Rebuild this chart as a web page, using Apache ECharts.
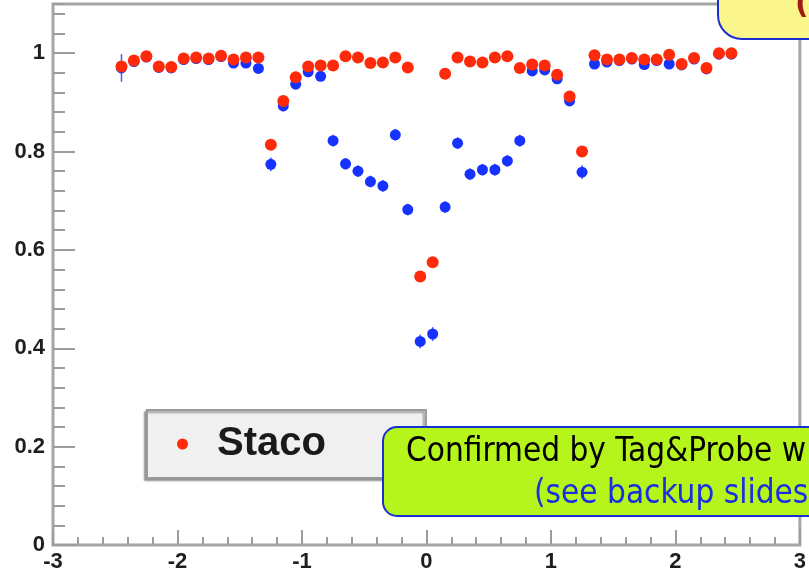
<!DOCTYPE html>
<html>
<head>
<meta charset="utf-8">
<script src="https://cdn.jsdelivr.net/npm/echarts@6/dist/echarts.min.js"></script>
<style>
  html, body { margin: 0; padding: 0; background: #ffffff; }
  #chart { width: 809px; height: 581px; }
</style>
</head>
<body>
<div id="chart"></div>
<script>
// Muon reconstruction efficiency versus eta, bins of width 0.1
const etaBins = [
  -2.45, -2.35, -2.25, -2.15, -2.05, -1.95, -1.85, -1.75, -1.65, -1.55,
  -1.45, -1.35, -1.25, -1.15, -1.05, -0.95, -0.85, -0.75, -0.65, -0.55,
  -0.45, -0.35, -0.25, -0.15, -0.05, 0.05, 0.15, 0.25, 0.35, 0.45,
  0.55, 0.65, 0.75, 0.85, 0.95, 1.05, 1.15, 1.25, 1.35, 1.45,
  1.55, 1.65, 1.75, 1.85, 1.95, 2.05, 2.15, 2.25, 2.35, 2.45
];

const stacoEff = [
  0.973, 0.985, 0.994, 0.973, 0.972, 0.989, 0.991, 0.989, 0.995, 0.987,
  0.991, 0.991, 0.814, 0.903, 0.951, 0.973, 0.975, 0.975, 0.994, 0.991,
  0.980, 0.981, 0.991, 0.971, 0.546, 0.575, 0.958, 0.991, 0.983, 0.981,
  0.991, 0.994, 0.970, 0.977, 0.975, 0.956, 0.912, 0.800, 0.996, 0.987,
  0.987, 0.990, 0.987, 0.987, 0.997, 0.978, 0.990, 0.970, 1.000, 1.000
];

const muidEff = [
  0.970, 0.983, 0.992, 0.971, 0.970, 0.987, 0.989, 0.987, 0.993, 0.980,
  0.980, 0.969, 0.774, 0.893, 0.937, 0.962, 0.953, 0.822, 0.775, 0.760,
  0.739, 0.730, 0.834, 0.682, 0.414, 0.429, 0.687, 0.817, 0.754, 0.763,
  0.763, 0.781, 0.822, 0.964, 0.966, 0.948, 0.903, 0.758, 0.978, 0.982,
  0.985, 0.988, 0.977, 0.985, 0.978, 0.976, 0.988, 0.968, 0.998, 0.998
];

const muidErr = [
  0.028, 0.008, 0.008, 0.008, 0.008, 0.008, 0.008, 0.008, 0.008, 0.008,
  0.008, 0.008, 0.014, 0.012, 0.010, 0.008, 0.008, 0.012, 0.012, 0.012,
  0.012, 0.012, 0.012, 0.012, 0.014, 0.014, 0.012, 0.012, 0.012, 0.012,
  0.012, 0.012, 0.012, 0.008, 0.008, 0.008, 0.010, 0.014, 0.008, 0.008,
  0.008, 0.008, 0.008, 0.008, 0.008, 0.008, 0.008, 0.008, 0.008, 0.008
];

const legendLabel = 'Staco';
const boxLine1 = 'Confirmed by Tag&Probe w';
const boxLine2 = '(see backup slides)';

const RED = '#ff2a0a';
const BLUE = '#1632ff';
const FRAME = '#a6a6a6';
const TICK = '#9c9c9c';
const labelFont = { fontFamily: 'Liberation Sans', fontWeight: 'bold', fontSize: 22, color: '#1e1e1e' };

const chart = echarts.init(document.getElementById('chart'), null, { renderer: 'canvas' });

const stacoData = etaBins.map((x, i) => [x, stacoEff[i]]);
const muidData = etaBins.map((x, i) => [x, muidEff[i]]);
const muidErrData = etaBins.map((x, i) => [x, muidEff[i] - muidErr[i], muidEff[i] + muidErr[i]]);

chart.setOption({
  animation: false,
  backgroundColor: '#ffffff',
  grid: {
    left: 53, right: 5, top: 4, bottom: 36,
    show: true, borderColor: FRAME, borderWidth: 3, backgroundColor: 'transparent'
  },
  legend: {
    data: [{ name: legendLabel, icon: 'circle' }],
    left: 147, top: 410,
    orient: 'horizontal',
    itemWidth: 11, itemHeight: 11,
    padding: [14, 100, 14, 30],
    backgroundColor: '#f0f0f0',
    borderColor: '#9a9a9a', borderWidth: 2,
    shadowColor: 'rgba(0,0,0,0.35)', shadowBlur: 2, shadowOffsetX: -2, shadowOffsetY: 2,
    textStyle: {
      fontFamily: 'Liberation Sans', fontWeight: 'bold', fontSize: 40, color: '#1a1a1a',
      lineHeight: 40, padding: [0, 0, 0, 24]
    }
  },
  xAxis: {
    type: 'value', min: -3, max: 3, interval: 1,
    axisLine: { show: false, onZero: false },
    axisTick: { show: true, inside: true, length: 15, lineStyle: { color: TICK, width: 2 } },
    minorTick: { show: true, splitNumber: 5, length: 8, lineStyle: { color: TICK, width: 2 } },
    splitLine: { show: false },
    axisLabel: Object.assign({ margin: 6 }, labelFont)
  },
  yAxis: [
    {
      type: 'value', min: 0, max: 1.1, interval: 0.2,
      axisLine: { show: false, onZero: false },
      axisTick: { show: true, inside: true, length: 22, lineStyle: { color: TICK, width: 2 } },
      splitLine: { show: false },
      axisLabel: Object.assign({ margin: 8, showMaxLabel: false }, labelFont)
    },
    {
      type: 'value', min: 0, max: 1.1, interval: 0.04, position: 'left',
      axisLine: { show: false, onZero: false },
      axisTick: { show: true, inside: true, length: 12, lineStyle: { color: TICK, width: 2 } },
      splitLine: { show: false },
      axisLabel: { show: false }
    }
  ],
  series: [
    {
      name: 'MuId errors',
      type: 'custom',
      yAxisIndex: 0,
      z: 2,
      data: muidErrData,
      renderItem: function (params, api) {
        const lo = api.coord([api.value(0), api.value(1)]);
        const hi = api.coord([api.value(0), api.value(2)]);
        return {
          type: 'line',
          shape: { x1: lo[0], y1: lo[1], x2: hi[0], y2: hi[1] },
          style: { stroke: BLUE, lineWidth: 1.5, opacity: 0.8 }
        };
      }
    },
    {
      name: 'MuId',
      type: 'scatter',
      yAxisIndex: 0,
      z: 3,
      symbol: 'circle', symbolSize: 11,
      itemStyle: { color: BLUE, opacity: 1 },
      data: muidData
    },
    {
      name: legendLabel,
      type: 'scatter',
      yAxisIndex: 0,
      z: 4,
      symbol: 'circle', symbolSize: 12,
      itemStyle: { color: RED, opacity: 1 },
      data: stacoData
    }
  ],
  graphic: [
    {
      type: 'rect', z: 100,
      shape: { x: 718, y: -60, width: 150, height: 99, r: 24 },
      style: { fill: '#fbf68b', stroke: '#1a2fd0', lineWidth: 2 }
    },
    {
      type: 'text', z: 101, x: 795, y: -10,
      style: { text: '(', fill: '#a01a12', font: 'bold 30px "DejaVu Sans"' }
    },
    {
      type: 'rect', z: 100,
      shape: { x: 383, y: 427, width: 460, height: 89, r: 14 },
      style: { fill: '#b5f51b', stroke: '#1a2fd0', lineWidth: 2 }
    },
    {
      type: 'text', z: 101, x: 406, y: 452,
      style: {
        text: boxLine1, fill: '#000000', font: '33px "DejaVu Sans Condensed"',
        textVerticalAlign: 'middle'
      }
    },
    {
      type: 'text', z: 101, x: 534, y: 494,
      style: {
        text: boxLine2, fill: '#1a2fe0', font: '33px "DejaVu Sans Condensed"',
        textVerticalAlign: 'middle'
      }
    }
  ]
});
</script>
</body>
</html>
